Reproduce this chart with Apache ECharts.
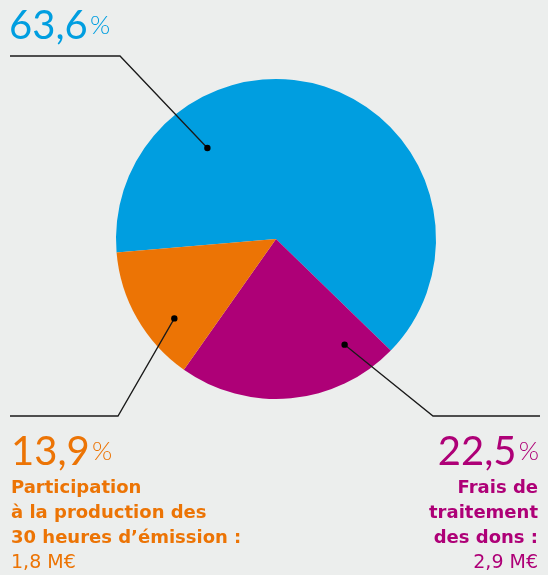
<!DOCTYPE html>
<html>
<head>
<meta charset="utf-8">
<script src="https://cdn.jsdelivr.net/npm/echarts@6/dist/echarts.min.js"></script>
<style>
  html, body { margin: 0; padding: 0; background: #eceeed; }
  #chart { width: 548px; height: 575px; }
</style>
</head>
<body>
<div id="chart"></div>
<script>
// parts of the budget, clockwise from the left
var names = ["Autres", "Frais de traitement des dons", "Participation à la production des 30 heures d'émission"];
var values = [63.6, 22.5, 13.9];
var colors = ["#009ee0", "#ae0077", "#ec7405"];
var pctLabels = ["63,6", "22,5", "13,9"];
var amounts = ["", "2,9 M€", "1,8 M€"];

var cx = 276, cy = 239, R = 160;
var numFont = "Lato";
var txtFont = "DejaVu Sans";

// where each callout dot sits: angle (deg, math) and distance from centre
var anchors = [[127, 114], [-57, 126], [-142, 129]];

function dot(i) {
  var a = anchors[i][0] * Math.PI / 180, r = anchors[i][1];
  return [cx + r * Math.cos(a), cy - r * Math.sin(a)];
}

var graphics = [];
var elbows = [[120, 56, 10], [433, 416, 540], [118, 416, 10]];
for (var i = 0; i < 3; i++) {
  var d = dot(i), e = elbows[i];
  graphics.push({
    type: "polyline", z: 10,
    shape: { points: [d, [e[0], e[1]], [e[2], e[1]]] },
    style: { stroke: "#1a1a1a", lineWidth: 1.3, fill: null }
  });
  graphics.push({
    type: "circle", z: 11,
    shape: { cx: d[0], cy: d[1], r: 3.2 },
    style: { fill: "#000" }
  });
}

function pct(i, x, y, align) {
  return {
    type: "text", x: x, y: y, z: 12,
    style: {
      text: "{n|" + pctLabels[i] + "}{s| }{p|%}",
      align: align, verticalAlign: "bottom",
      rich: {
        n: { fontFamily: numFont, fontSize: 40, fill: colors[i], fontWeight: 400 },
        s: { fontSize: 8 },
        p: { fontFamily: numFont, fontSize: 26, fill: colors[i], fontWeight: 300 }
      }
    }
  };
}
graphics.push(pct(0, 9, 46, "left"));
graphics.push(pct(2, 11, 472, "left"));
graphics.push(pct(1, 539, 472, "right"));

graphics.push({
  type: "text", x: 11, y: 476, z: 12,
  style: {
    text: "{b|Participation}\n{b|à la production des}\n{b|30 heures d’émission :}\n{r|" + amounts[2] + "}",
    align: "left",
    rich: {
      b: { fontFamily: txtFont, fontSize: 18, fontWeight: "bold", fill: colors[2], lineHeight: 25 },
      r: { fontFamily: txtFont, fontSize: 19, fill: colors[2], lineHeight: 25 }
    }
  }
});
graphics.push({
  type: "text", x: 538, y: 476, z: 12,
  style: {
    text: "{b|Frais de}\n{b|traitement}\n{b|des dons :}\n{r|" + amounts[1] + "}",
    align: "right",
    rich: {
      b: { fontFamily: txtFont, fontSize: 18, fontWeight: "bold", fill: colors[1], lineHeight: 25, align: "right" },
      r: { fontFamily: txtFont, fontSize: 19, fill: colors[1], lineHeight: 25, align: "right" }
    }
  }
});

var chart = echarts.init(document.getElementById("chart"), null, { renderer: "canvas" });
chart.setOption({
  backgroundColor: "#eceeed",
  animation: false,
  series: [{
    type: "pie",
    center: [cx, cy],
    radius: [0, R],
    startAngle: 184.8,
    clockwise: true,
    label: { show: false },
    labelLine: { show: false },
    emphasis: { disabled: true },
    data: names.map(function (n, i) {
      return { name: n, value: values[i], itemStyle: { color: colors[i] } };
    })
  }],
  graphic: graphics
});
</script>
</body>
</html>
